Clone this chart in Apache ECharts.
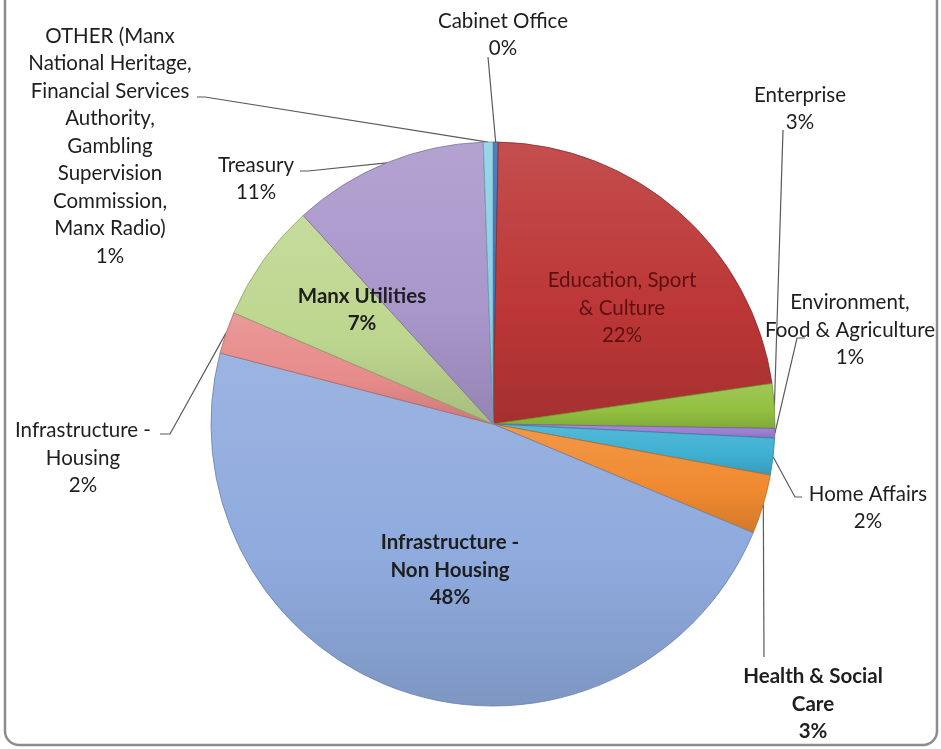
<!DOCTYPE html>
<html>
<head>
<meta charset="utf-8">
<script src="https://cdn.jsdelivr.net/npm/echarts@6/dist/echarts.min.js"></script>
<style>
  html, body { margin: 0; padding: 0; background: #ffffff; }
  #chart { width: 941px; height: 749px; }
</style>
</head>
<body>
<div id="chart"></div>
<script>
// Capital spending share by government department (percent of total)
const departments = [
  'Cabinet Office',
  'Education, Sport\n& Culture',
  'Enterprise',
  'Environment,\nFood & Agriculture',
  'Home Affairs',
  'Health & Social\nCare',
  'Infrastructure -\nNon Housing',
  'Infrastructure -\nHousing',
  'Manx Utilities',
  'Treasury',
  'OTHER (Manx\nNational Heritage,\nFinancial Services\nAuthority,\nGambling\nSupervision\nCommission,\nManx Radio)'
];
const spendShare = [0.3, 22.4, 2.55, 0.55, 2.1, 3.4, 47.75, 2.4, 6.8, 11.2, 0.55];
const sliceColors = ['#3d6db4', '#bc3636', '#92c040', '#9a7ed2', '#3eb0d2', '#f08a30',
                     '#8eaadd', '#e78b8b', '#bdd68e', '#a996cb', '#8ad0e6'];
const boldLabels = [false, false, false, false, false, true, true, false, true, false, false];
const insideLabels = [false, true, false, false, false, false, true, false, true, false, false];

// Label anchor points and leader-line elbows (screen pixels)
const labelSpots = [
  { x: 503, y: 35,  line: [[488, 57]] },
  { x: 622, y: 308 },
  { x: 800, y: 109, line: [[783, 130]] },
  { x: 850, y: 330, line: [[797, 338], [805, 338]] },
  { x: 868, y: 508, line: [[795, 497], [802, 497]] },
  { x: 813, y: 704, line: [[764, 657]] },
  { x: 450, y: 570 },
  { x: 83,  y: 458, line: [[170, 434], [160, 434]] },
  { x: 362, y: 310 },
  { x: 256, y: 179, line: [[308, 171], [300, 171]] },
  { x: 110, y: 146, line: [[205, 97], [197, 97]] }
];

function tint(hex, amt) {
  const n = parseInt(hex.slice(1), 16);
  let r = (n >> 16) & 255, g = (n >> 8) & 255, b = n & 255;
  const f = c => Math.max(0, Math.min(255, Math.round(amt >= 0 ? c + (255 - c) * amt : c * (1 + amt))));
  return 'rgb(' + f(r) + ',' + f(g) + ',' + f(b) + ')';
}

const seriesData = departments.map((name, i) => ({
  name: name,
  value: spendShare[i],
  itemStyle: {
    color: {
      type: 'linear', x: 0, y: 0, x2: 0, y2: 1,
      colorStops: [
        { offset: 0, color: tint(sliceColors[i], 0.12) },
        { offset: 0.6, color: sliceColors[i] },
        { offset: 1, color: tint(sliceColors[i], -0.12) }
      ]
    },
    borderColor: tint(sliceColors[i], -0.25),
    borderWidth: 0.8
  },
  label: {
    fontWeight: boldLabels[i] ? 'bold' : 'normal',
    color: i === 1 ? '#5e1010' : '#1e1e1e'
  },
  labelLine: { show: !insideLabels[i] }
}));

const chart = echarts.init(document.getElementById('chart'), null, { renderer: 'canvas' });

chart.setOption({
  backgroundColor: '#ffffff',
  animation: false,
  graphic: [{
    type: 'rect',
    shape: { x: 5, y: -30, width: 932, height: 775, r: 14 },
    style: { fill: 'none', stroke: '#8c8c8c', lineWidth: 2.5 },
    silent: true,
    z: -10
  }],
  series: [{
    type: 'pie',
    center: [493, 424],
    radius: [0, 282],
    startAngle: 90,
    clockwise: true,
    avoidLabelOverlap: false,
    data: seriesData,
    label: {
      show: true,
      fontFamily: 'Lato',
      fontSize: 20.5,
      lineHeight: 27.5,
      align: 'center',
      formatter: p => p.name + '\n' + Math.round(p.percent) + '%'
    },
    labelLine: {
      show: true,
      length: 10,
      length2: 10,
      lineStyle: { color: '#5a5a5a', width: 1.2 }
    },
    labelLayout: function (params) {
      const spot = labelSpots[params.dataIndex];
      const out = { x: spot.x, y: spot.y, align: 'center', verticalAlign: 'middle' };
      if (spot.line && params.labelLinePoints) {
        out.labelLinePoints = [params.labelLinePoints[0]].concat(spot.line);
      }
      return out;
    }
  }]
});
</script>
</body>
</html>
